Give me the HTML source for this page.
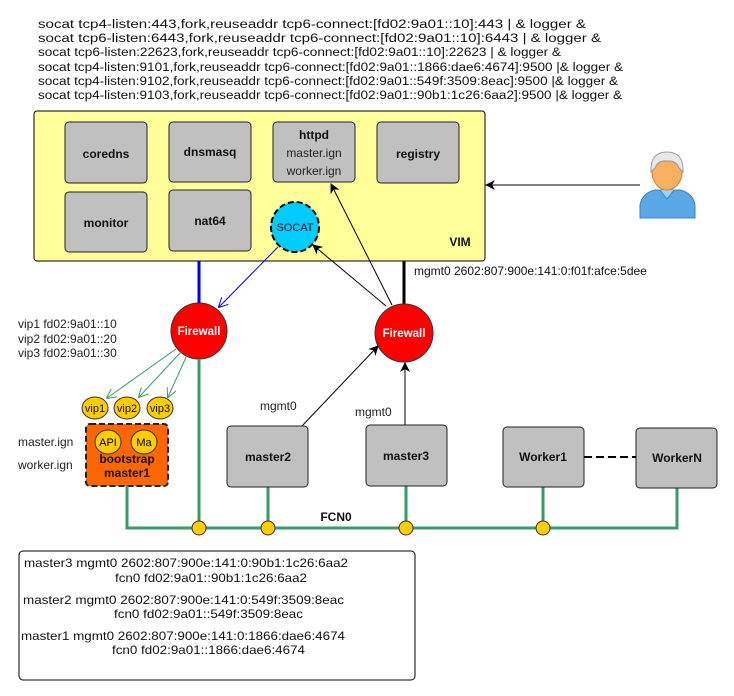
<!DOCTYPE html>
<html><head><meta charset="utf-8"><style>html,body{margin:0;padding:0;background:#fff}svg{display:block}text{font-family:"Liberation Sans",sans-serif}</style></head><body>
<svg width="734" height="696" viewBox="0 0 734 696" xmlns="http://www.w3.org/2000/svg">
<defs>
<marker id="ab" markerWidth="10" markerHeight="10" refX="9" refY="5" orient="auto" markerUnits="userSpaceOnUse"><path d="M0,0 L10,5 L0,10 L3,5 Z" fill="#000"/></marker>
<marker id="abl" markerWidth="10" markerHeight="10" refX="9" refY="5" orient="auto" markerUnits="userSpaceOnUse"><path d="M0,0 L10,5 L0,10" fill="none" stroke="#00f" stroke-width="1"/></marker>
<marker id="ag" markerWidth="10" markerHeight="10" refX="9" refY="5" orient="auto" markerUnits="userSpaceOnUse"><path d="M0,0 L10,5 L0,10" fill="none" stroke="#3a9a6a" stroke-width="1"/></marker>
</defs>
<g font-size="11.5" fill="#111">
<text x="38" y="28" textLength="548" lengthAdjust="spacingAndGlyphs">socat tcp4-listen:443,fork,reuseaddr tcp6-connect:[fd02:9a01::10]:443 | &amp; logger &amp;</text>
<text x="38" y="42" textLength="563" lengthAdjust="spacingAndGlyphs">socat tcp6-listen:6443,fork,reuseaddr tcp6-connect:[fd02:9a01::10]:6443 | &amp; logger &amp;</text>
<text x="38" y="56" textLength="523" lengthAdjust="spacingAndGlyphs">socat tcp6-listen:22623,fork,reuseaddr tcp6-connect:[fd02:9a01::10]:22623 | &amp; logger &amp;</text>
<text x="38" y="71" textLength="585" lengthAdjust="spacingAndGlyphs">socat tcp4-listen:9101,fork,reuseaddr tcp6-connect:[fd02:9a01::1866:dae6:4674]:9500 |&amp; logger &amp;</text>
<text x="38" y="85" textLength="580" lengthAdjust="spacingAndGlyphs">socat tcp4-listen:9102,fork,reuseaddr tcp6-connect:[fd02:9a01::549f:3509:8eac]:9500 |&amp; logger &amp;</text>
<text x="38" y="99" textLength="584" lengthAdjust="spacingAndGlyphs">socat tcp4-listen:9103,fork,reuseaddr tcp6-connect:[fd02:9a01::90b1:1c26:6aa2]:9500 |&amp; logger &amp;</text>
</g>
<rect x="34" y="111" width="451" height="150" rx="3" fill="#ffff99" stroke="#000"/>
<g fill="#c0c0c0" stroke="#222">
<rect x="65" y="122" width="82" height="61" rx="4"/>
<rect x="169" y="122" width="82" height="60" rx="4"/>
<rect x="273" y="122" width="82" height="60" rx="4"/>
<rect x="377" y="122" width="82" height="61" rx="4"/>
<rect x="65" y="192" width="82" height="60" rx="4"/>
<rect x="169" y="190" width="82" height="61" rx="4"/>
</g>
<g font-size="12" font-weight="bold" text-anchor="middle" fill="#111">
<text x="106" y="158">coredns</text>
<text x="210" y="156">dnsmasq</text>
<text x="314" y="139">httpd</text>
<text x="418" y="158">registry</text>
<text x="106" y="227">monitor</text>
<text x="210" y="225">nat64</text>
<text x="460" y="246">VIM</text>
</g>
<text x="314" y="157" font-size="12" text-anchor="middle" fill="#222">master.ign</text>
<text x="314" y="175" font-size="12" text-anchor="middle" fill="#222">worker.ign</text>
<ellipse cx="295" cy="227" rx="24" ry="25" fill="#00ccff" stroke="#000" stroke-width="2" stroke-dasharray="6,3"/>
<text x="295" y="231" font-size="11" text-anchor="middle" fill="#111">SOCAT</text>
<!-- person -->
<g>
<path d="M640,218 L640,205 Q642,193 655,190 L680,190 Q693,193 695,205 L695,218 Z" fill="#5aa9e6" stroke="#3b86c4"/>
<path d="M660,190 L667,199 L674,190" fill="#9fd0f5" stroke="#3b86c4"/>
<ellipse cx="667" cy="172" rx="15" ry="18" fill="#f8b060" stroke="#d08030"/>
<path d="M651,172 Q650,152 667,152 Q684,152 683,172 L679,168 Q676,160 667,161 Q658,160 655,168 Z" fill="#e8e8e8" stroke="#999"/>
</g>
<line x1="640" y1="185" x2="486" y2="185" stroke="#000" marker-end="url(#ab)"/>
<!-- connectors -->
<line x1="199" y1="261" x2="199" y2="303" stroke="#0000ff" stroke-width="3"/>
<line x1="278" y1="247" x2="219" y2="307" stroke="#0000ff" marker-end="url(#abl)"/>
<line x1="404" y1="261" x2="404" y2="304" stroke="#000" stroke-width="3"/>
<line x1="386" y1="306" x2="313" y2="245" stroke="#000" marker-end="url(#ab)"/>
<line x1="392" y1="305" x2="331" y2="184" stroke="#000" marker-end="url(#ab)"/>
<text x="414" y="275" font-size="12" fill="#111">mgmt0 2602:807:900e:141:0:f01f:afce:5dee</text>
<circle cx="199" cy="331" r="28" fill="#ff0000" stroke="#333"/>
<text x="199" y="335" font-size="11.5" font-weight="bold" fill="#fff" text-anchor="middle">Firewall</text>
<circle cx="404" cy="333" r="29" fill="#ff0000" stroke="#333"/>
<text x="404" y="337" font-size="11.5" font-weight="bold" fill="#fff" text-anchor="middle">Firewall</text>
<g font-size="12" fill="#222">
<text x="18" y="328">vip1 fd02:9a01::10</text>
<text x="18" y="343">vip2 fd02:9a01::20</text>
<text x="18" y="357">vip3 fd02:9a01::30</text>
<text x="18" y="446">master.ign</text>
<text x="18" y="469">worker.ign</text>
<text x="260" y="410">mgmt0</text>
<text x="355" y="416">mgmt0</text>
</g>
<g stroke="#3a9a6a" fill="none">
<line x1="176" y1="349" x2="107" y2="398" marker-end="url(#ag)"/>
<line x1="181" y1="352" x2="139" y2="397" marker-end="url(#ag)"/>
<line x1="187" y1="355" x2="168" y2="397" marker-end="url(#ag)"/>
</g>
<g fill="#ffcc00" stroke="#333">
<ellipse cx="95" cy="408" rx="13" ry="11"/>
<ellipse cx="127" cy="408" rx="13" ry="11"/>
<ellipse cx="160" cy="408" rx="13" ry="11"/>
</g>
<g font-size="11" text-anchor="middle" fill="#111">
<text x="95" y="412">vip1</text><text x="127" y="412">vip2</text><text x="160" y="412">vip3</text>
</g>
<rect x="86" y="424" width="82" height="62" rx="4" fill="#ff6600" stroke="#222" stroke-width="2" stroke-dasharray="6,3"/>
<ellipse cx="108" cy="442" rx="13" ry="12" fill="#ffcc00" stroke="#333"/>
<ellipse cx="144" cy="442" rx="13" ry="12" fill="#ffcc00" stroke="#333"/>
<text x="108" y="446" font-size="11" text-anchor="middle">API</text>
<text x="144" y="446" font-size="11" text-anchor="middle">Ma</text>
<text x="127" y="463" font-size="12" font-weight="bold" text-anchor="middle" fill="#111">bootstrap</text>
<text x="127" y="477" font-size="12" font-weight="bold" text-anchor="middle" fill="#111">master1</text>
<line x1="302" y1="426" x2="378" y2="346" stroke="#000" marker-end="url(#ab)"/>
<line x1="405" y1="425" x2="405" y2="363" stroke="#000" marker-end="url(#ab)"/>
<!-- bus -->
<g stroke="#3a9a6a" stroke-width="3" fill="none">
<path d="M127,486 V528 H677 V488"/>
<line x1="199" y1="359" x2="199" y2="528"/>
<line x1="268" y1="487" x2="268" y2="528"/>
<line x1="406" y1="486" x2="406" y2="528"/>
<line x1="543" y1="487" x2="543" y2="528"/>
</g>
<g fill="#c0c0c0" stroke="#222">
<rect x="227" y="426" width="81" height="61" rx="4"/>
<rect x="366" y="425" width="81" height="61" rx="4"/>
<rect x="503" y="427" width="81" height="60" rx="4"/>
<rect x="636" y="428" width="81" height="60" rx="4"/>
</g>
<line x1="584" y1="457" x2="636" y2="457" stroke="#000" stroke-width="2" stroke-dasharray="8,4"/>
<g font-size="12" font-weight="bold" text-anchor="middle" fill="#111">
<text x="268" y="461">master2</text>
<text x="406" y="460">master3</text>
<text x="543" y="461">Worker1</text>
<text x="677" y="462">WorkerN</text>
<text x="336" y="521">FCN0</text>
</g>
<g fill="#ffcc00" stroke="#333">
<ellipse cx="199" cy="528" rx="7" ry="7"/>
<ellipse cx="268" cy="528" rx="7" ry="7"/>
<ellipse cx="406" cy="528" rx="7" ry="7"/>
<ellipse cx="543" cy="528" rx="7" ry="7"/>
</g>
<rect x="19" y="551" width="396" height="129" rx="4" fill="#fff" stroke="#000"/>
<g font-size="12" fill="#111">
<text x="24" y="567" textLength="324" lengthAdjust="spacingAndGlyphs">master3 mgmt0 2602:807:900e:141:0:90b1:1c26:6aa2</text>
<text x="115" y="582" textLength="192" lengthAdjust="spacingAndGlyphs">fcn0 fd02:9a01::90b1:1c26:6aa2</text>
<text x="23" y="604" textLength="321" lengthAdjust="spacingAndGlyphs">master2 mgmt0 2602:807:900e:141:0:549f:3509:8eac</text>
<text x="114" y="618" textLength="189" lengthAdjust="spacingAndGlyphs">fcn0 fd02:9a01::549f:3509:8eac</text>
<text x="21" y="640" textLength="324" lengthAdjust="spacingAndGlyphs">master1 mgmt0 2602:807:900e:141:0:1866:dae6:4674</text>
<text x="112" y="654" textLength="193" lengthAdjust="spacingAndGlyphs">fcn0 fd02:9a01::1866:dae6:4674</text>
</g>
</svg>
</body></html>
